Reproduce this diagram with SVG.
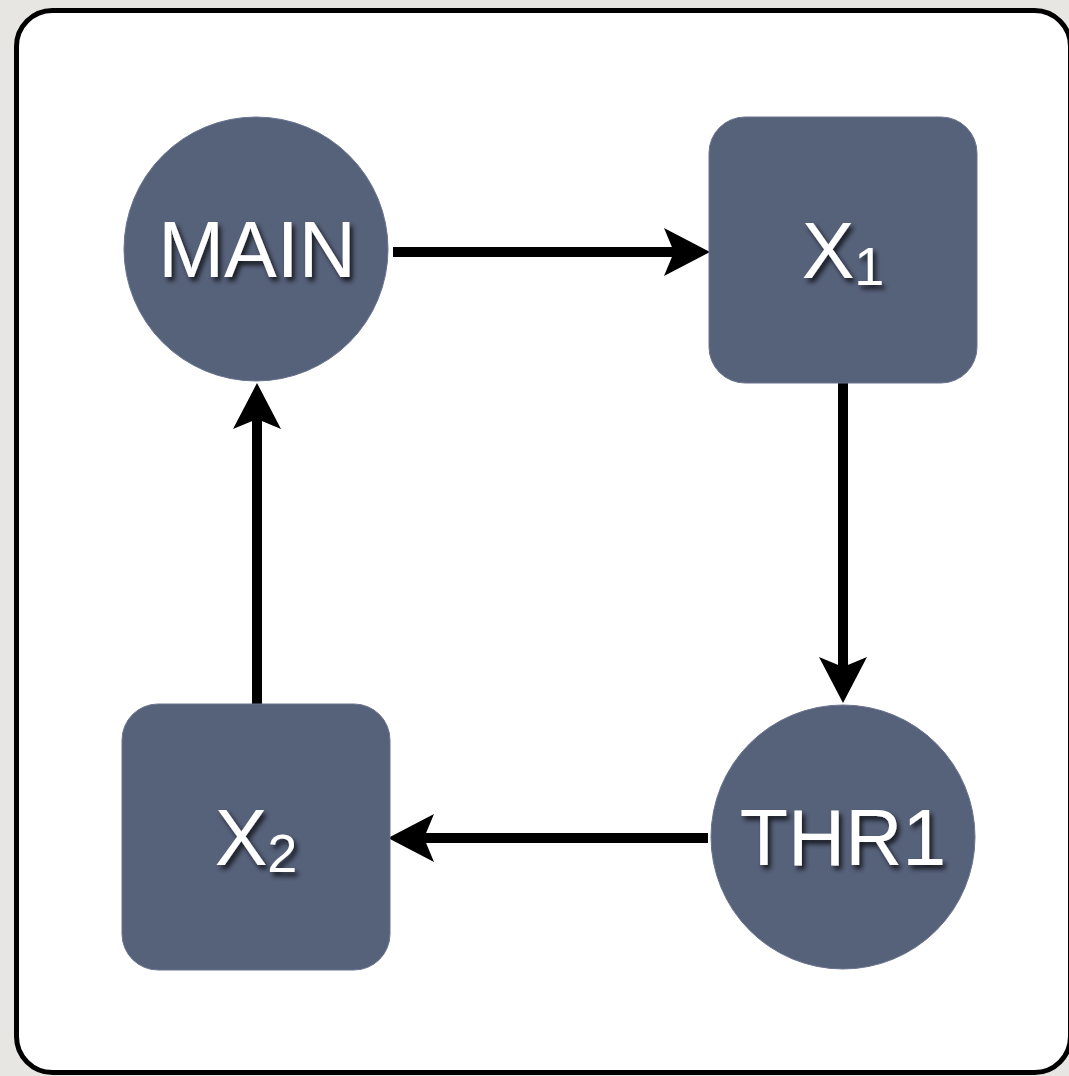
<svg xmlns="http://www.w3.org/2000/svg" width="1069" height="1076" viewBox="0 0 1069 1076">
  <style>
    .node { fill: #56617a; stroke: #6b7590; stroke-width: 1; }
    .label { fill: #ffffff; font-family: "Liberation Sans", Arial, Helvetica, sans-serif; font-size: 79px; text-anchor: middle; filter: url(#textShadow); }
    .sub { font-size: 54px; }
    .edge { stroke: #000000; stroke-width: 10; fill: none; marker-end: url(#arrow); }
  </style>
  <defs>
    <filter id="textShadow" x="-20%" y="-20%" width="140%" height="160%">
      <feDropShadow dx="3" dy="4" stdDeviation="2.5" flood-color="#000000" flood-opacity="0.75"/>
    </filter>
    <marker id="arrow" viewBox="0 0 46 48" refX="10" refY="24" markerWidth="46" markerHeight="48" markerUnits="userSpaceOnUse" orient="auto">
      <path d="M0,0 L46,24 L0,48 L10,24 Z" fill="#000000"/>
    </marker>
  </defs>

  <!-- page background and frame -->
  <rect x="0" y="0" width="1069" height="1076" fill="#e7e6e2"/>
  <rect x="16.5" y="10.5" width="1054" height="1062" rx="36" ry="36" fill="#ffffff" stroke="#000000" stroke-width="5"/>

  <!-- connectors -->
  <g id="connectors">
    <line id="main-x1" class="edge" x1="393" y1="252" x2="674" y2="252"/>
    <line id="x1-thr1" class="edge" x1="843" y1="383" x2="843" y2="667"/>
    <line id="thr1-x2" class="edge" x1="708" y1="838" x2="424" y2="838"/>
    <line id="x2-main" class="edge" x1="257" y1="704" x2="257" y2="419"/>
  </g>

  <!-- nodes -->
  <g id="node-main">
    <circle class="node" cx="256" cy="249" r="132"/>
    <text class="label" x="257" y="277">MAIN</text>
  </g>
  <g id="node-x1">
    <rect class="node" x="709" y="117" width="268" height="266" rx="36" ry="36"/>
    <text class="label" x="843" y="278">X<tspan class="sub" dy="7">1</tspan></text>
  </g>
  <g id="node-thr1">
    <circle class="node" cx="843" cy="837" r="132"/>
    <text class="label" x="843" y="865">THR1</text>
  </g>
  <g id="node-x2">
    <rect class="node" x="122" y="704" width="268" height="266" rx="36" ry="36"/>
    <text class="label" x="256" y="865">X<tspan class="sub" dy="7">2</tspan></text>
  </g>
</svg>
